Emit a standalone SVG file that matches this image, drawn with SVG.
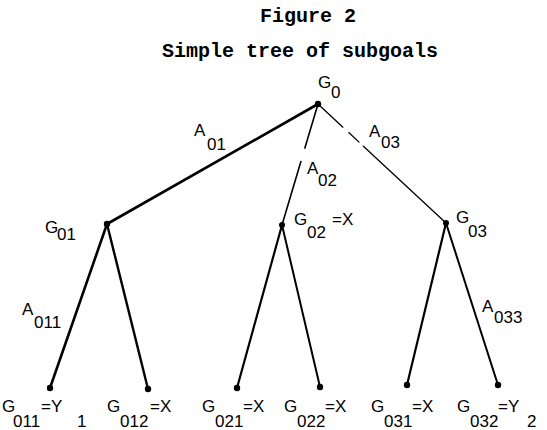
<svg xmlns="http://www.w3.org/2000/svg" width="547" height="430" viewBox="0 0 547 430">
<style>
.title{font-family:"Liberation Mono","Courier New",monospace;font-weight:bold;font-size:20px;fill:#000}
.lbl{font-family:"Liberation Sans",Arial,sans-serif;font-size:17px;fill:#000}
.edge{stroke:#000;fill:none;stroke-linecap:round}
.dot{fill:#000}
</style>
<rect width="547" height="430" fill="#fff"/>
<text class="title" x="308" y="22" text-anchor="middle">Figure 2</text>
<text class="title" x="300" y="57" text-anchor="middle">Simple tree of subgoals</text>
<g id="connectors">
<path class="edge" d="M318,104 L107,224" stroke-width="2.6"/>
<path class="edge" d="M318,104 L282,225" stroke-width="1.6" stroke-dasharray="46,14,200"/>
<path class="edge" d="M318,104 L446,223" stroke-width="1.3" stroke-dasharray="34,8,14,6,200"/>
<path class="edge" d="M107,224 L50,388" stroke-width="2.6"/>
<path class="edge" d="M107,224 L148,389" stroke-width="2.4"/>
<path class="edge" d="M282,225 L237,388" stroke-width="2.2"/>
<path class="edge" d="M282,225 L320,387" stroke-width="2"/>
<path class="edge" d="M446,223 L407,385" stroke-width="2.2"/>
<path class="edge" d="M446,223 L498,385" stroke-width="2"/>
<text class="lbl"><tspan x="194" y="136">A</tspan><tspan x="207" y="150">01</tspan></text>
<text class="lbl"><tspan x="307" y="174">A</tspan><tspan x="318" y="186">02</tspan></text>
<text class="lbl"><tspan x="369" y="137">A</tspan><tspan x="381" y="148">03</tspan></text>
<text class="lbl"><tspan x="22" y="315">A</tspan><tspan x="34" y="328">011</tspan></text>
<text class="lbl"><tspan x="482" y="312">A</tspan><tspan x="494" y="323">033</tspan></text>
</g>
<g id="G0"><circle class="dot" cx="318" cy="104" r="3.2"/><text class="lbl"><tspan x="318" y="88">G</tspan><tspan x="331" y="98">0</tspan></text></g>
<g id="G01"><circle class="dot" cx="107" cy="224" r="3.2"/><text class="lbl"><tspan x="45" y="233">G</tspan><tspan x="57" y="240">01</tspan></text></g>
<g id="G02"><circle class="dot" cx="282" cy="225" r="3"/><text class="lbl"><tspan x="294" y="225">G</tspan><tspan x="307" y="238">02</tspan><tspan x="332" y="225">=X</tspan></text></g>
<g id="G03"><circle class="dot" cx="446" cy="223" r="3"/><text class="lbl"><tspan x="456" y="223">G</tspan><tspan x="468" y="237">03</tspan></text></g>
<g id="G011"><circle class="dot" cx="50" cy="388" r="3.2"/><text class="lbl"><tspan x="2" y="412">G</tspan><tspan x="13" y="427">011</tspan><tspan x="41" y="412">=Y</tspan><tspan x="77" y="427">1</tspan></text></g>
<g id="G012"><circle class="dot" cx="148" cy="389" r="3.2"/><text class="lbl"><tspan x="107" y="412">G</tspan><tspan x="120" y="427">012</tspan><tspan x="150" y="412">=X</tspan></text></g>
<g id="G021"><circle class="dot" cx="237" cy="388" r="3.2"/><text class="lbl"><tspan x="202" y="412">G</tspan><tspan x="215" y="427">021</tspan><tspan x="243" y="412">=X</tspan></text></g>
<g id="G022"><circle class="dot" cx="320" cy="387" r="3.2"/><text class="lbl"><tspan x="284" y="412">G</tspan><tspan x="297" y="427">022</tspan><tspan x="325" y="412">=X</tspan></text></g>
<g id="G031"><circle class="dot" cx="407" cy="385" r="3.2"/><text class="lbl"><tspan x="371" y="412">G</tspan><tspan x="384" y="427">031</tspan><tspan x="412" y="412">=X</tspan></text></g>
<g id="G032"><circle class="dot" cx="498" cy="385" r="3.2"/><text class="lbl"><tspan x="457" y="412">G</tspan><tspan x="470" y="427">032</tspan><tspan x="498" y="412">=Y</tspan><tspan x="527" y="427">2</tspan></text></g>
</svg>
